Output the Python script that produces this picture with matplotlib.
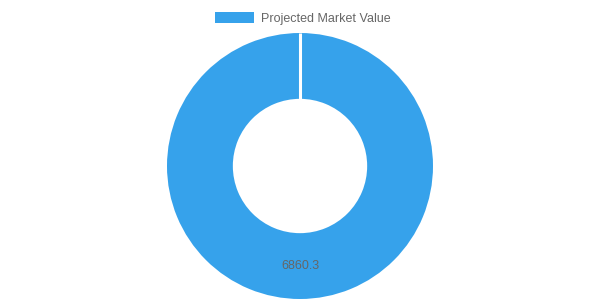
import matplotlib
matplotlib.use("Agg")
import matplotlib.pyplot as plt
import numpy as np

# ---------------- data ----------------
series_name = "Projected Market Value"
labels = ["6860.3"]
values = [6860.3]
colors = ["#36A2EB"]

plt.rcParams["font.family"] = ["Liberation Sans", "DejaVu Sans"]

fig = plt.figure(figsize=(6, 3), dpi=100)
# donut centred at (300, 166) px, outer radius ~133 px
ax = fig.add_axes([(300 - 133) / 600, (300 - 299) / 300, 266 / 600, 266 / 300])

wedges, texts = ax.pie(
    values,
    labels=labels,
    colors=colors,
    startangle=90,
    counterclock=False,
    radius=1.0,
    labeldistance=0.75,
    wedgeprops=dict(width=0.495, linewidth=0),
    textprops=dict(color="#666666", fontsize=9),
)
for t in texts:
    t.set_horizontalalignment("center")
    t.set_verticalalignment("center")

# white border at the start of each slice (full ring keeps no radial edge)
for w in wedges:
    a = np.deg2rad(w.theta1)
    r0, r1 = w.r - w.width, w.r
    ax.plot([r0 * np.cos(a), r1 * np.cos(a)], [r0 * np.sin(a), r1 * np.sin(a)],
            color="white", lw=2.2, solid_capstyle="butt")

ax.set_xlim(-1, 1)
ax.set_ylim(-1, 1)
ax.set_aspect("equal")
ax.axis("off")

leg = fig.legend(
    [wedges[0]],
    [series_name],
    loc="upper center",
    bbox_to_anchor=(0.505, 0.99),
    frameon=False,
    fontsize=9,
    labelcolor="#666666",
    handlelength=3.1,
    handleheight=1.0,
    handletextpad=0.6,
    borderaxespad=0.3,
)

fig.savefig("out.png", dpi=100)
